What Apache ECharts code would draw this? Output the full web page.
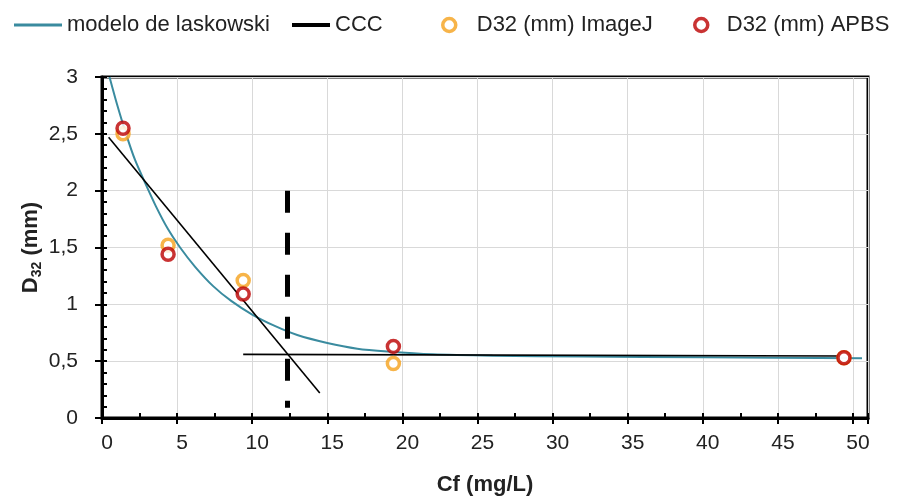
<!DOCTYPE html>
<html>
<head>
<meta charset="utf-8">
<script src="https://cdn.jsdelivr.net/npm/echarts@6/dist/echarts.min.js"></script>
<style>
  html, body { margin: 0; padding: 0; background: #fff; }
  #chart { width: 909px; height: 497px; }
</style>
</head>
<body>
<div id="chart"></div>
<script>
// modelo de laskowski (curve)
const modelX = [0.5, 1.0, 1.6, 2.2, 2.9, 3.6, 4.4, 5.2, 6.2, 7.4, 8.6, 10.0, 11.5, 13.0, 15.0, 17.0, 19.0, 22.0, 26.0, 32.0, 40.0, 50.6]
const modelY = [3.0, 2.76, 2.50, 2.27, 2.06, 1.86, 1.66, 1.50, 1.33, 1.16, 1.03, 0.91, 0.81, 0.73, 0.66, 0.61, 0.585, 0.56, 0.548, 0.54, 0.535, 0.525]

// CCC: descending tangent and the plateau line
const cccDownX = [0.44, 14.5]
const cccDownY = [2.47, 0.22]
const cccFlatX = [9.4, 49.2]
const cccFlatY = [0.56, 0.545]

// vertical dashed marker at the CCC
const cccMarkX = [12.35, 12.35]
const cccMarkY = [2.0, 0.09]

// measured points
const pointX = [1.4, 4.4, 9.4, 19.4, 49.4]
const imagejY = [2.50, 1.52, 1.21, 0.48, 0.53]
const apbsY = [2.55, 1.44, 1.09, 0.63, 0.53]

const FONT = "'Liberation Sans Narrow', 'Liberation Sans', Arial, sans-serif"
const TEAL = '#3a8b9f'
const ORANGE = '#f5a11c'
const RED = '#bb0000'

const pairs = (xs, ys) => xs.map((x, i) => [x, ys[i]])
const comma = v => String(v).replace('.', ',')

const chart = echarts.init(document.getElementById('chart'))

const legendBase = { top: 14, padding: 0, textStyle: { fontFamily: FONT, fontSize: 22, color: '#222' }, selectedMode: false }

chart.setOption({
  animation: false,
  grid: { left: 102, right: 41, top: 77, bottom: 79, outerBoundsMode: 'none', containLabel: false,
    show: true, borderColor: '#000', borderWidth: 3, backgroundColor: 'transparent' },
  legend: [
    { ...legendBase, left: 14, itemWidth: 48, itemHeight: 14,
      data: [{ name: 'modelo de laskowski', icon: 'path://M0,5.5 L48,5.5 L48,8.5 L0,8.5 Z' }] },
    { ...legendBase, left: 292, itemWidth: 38, itemHeight: 14,
      data: [{ name: 'CCC', icon: 'path://M0,5 L38,5 L38,9 L0,9 Z' }] },
    { ...legendBase, left: 441, itemWidth: 13, itemHeight: 13,
      textStyle: { ...legendBase.textStyle, padding: [0, 0, 0, 16] },
      data: [{ name: 'D32 (mm) ImageJ', icon: 'circle', itemStyle: { color: '#fff', borderColor: ORANGE, borderWidth: 3.5 } }] },
    { ...legendBase, left: 693, itemWidth: 13, itemHeight: 13,
      textStyle: { ...legendBase.textStyle, padding: [0, 0, 0, 14] },
      data: [{ name: 'D32 (mm) APBS', icon: 'circle', itemStyle: { color: '#fff', borderColor: RED, borderWidth: 3.5 } }] }
  ],
  xAxis: [
    {
      type: 'value', min: 0, max: 51, interval: 5,
      name: 'Cf (mg/L)', nameLocation: 'middle', nameGap: 56, nameMoveOverlap: false,
      nameTextStyle: { fontFamily: FONT, fontSize: 22, fontWeight: 'bold', color: '#222' },
      axisLine: { onZero: false, lineStyle: { color: '#000', width: 3 } },
      axisTick: { show: true, inside: false, length: 6, lineStyle: { color: '#000', width: 2 } },
      axisLabel: { fontFamily: FONT, fontSize: 21, color: '#222', margin: 15, padding: [0, 0, 0, 10],
        formatter: v => (v % 5 === 0 ? comma(v) : '') },
      splitLine: { show: true, lineStyle: { color: '#d9d9d9', width: 1 } }
    },
    {
      // minor ticks pointing into the plot
      type: 'value', min: 0, max: 51, interval: 2.5, position: 'bottom',
      axisLine: { show: false }, axisLabel: { show: false }, splitLine: { show: false },
      axisTick: { show: true, inside: true, length: 5, lineStyle: { color: '#000', width: 2 } }
    }
  ],
  yAxis: [
    {
      type: 'value', min: 0, max: 3, interval: 0.5,
      name: '{b|D}{s|32}{b| (mm)}', nameLocation: 'middle', nameGap: 56, nameMoveOverlap: false,
      nameTextStyle: {
        rich: {
          b: { fontFamily: FONT, fontSize: 22, fontWeight: 'bold', color: '#222', lineHeight: 30, verticalAlign: 'middle' },
          s: { fontFamily: FONT, fontSize: 14, fontWeight: 'bold', color: '#222', lineHeight: 30, verticalAlign: 'bottom', padding: [0, 0, 2, 0] }
        }
      },
      axisLine: { onZero: false, lineStyle: { color: '#000', width: 3 } },
      axisTick: { show: true, inside: false, length: 7, lineStyle: { color: '#000', width: 2 } },
      axisLabel: { fontFamily: FONT, fontSize: 21, color: '#222', margin: 24, formatter: v => comma(v) },
      splitLine: { show: true, lineStyle: { color: '#d9d9d9', width: 1 } }
    },
    {
      type: 'value', min: 0, max: 3, interval: 0.1, position: 'left',
      axisLine: { show: false }, axisLabel: { show: false }, splitLine: { show: false },
      axisTick: { show: true, inside: true, length: 5, lineStyle: { color: '#000', width: 2 } }
    }
  ],
  series: [
    {
      name: 'modelo de laskowski', type: 'line', smooth: 0.25, symbol: 'none',
      data: pairs(modelX, modelY), z: 3,
      itemStyle: { color: TEAL }, lineStyle: { color: TEAL, width: 2 }
    },
    {
      name: 'CCC', type: 'line', symbol: 'none', data: pairs(cccDownX, cccDownY), z: 4,
      itemStyle: { color: '#000' }, lineStyle: { color: '#000', width: 1.6 }
    },
    {
      name: 'CCC', type: 'line', symbol: 'none', data: pairs(cccFlatX, cccFlatY), z: 4,
      itemStyle: { color: '#000' }, lineStyle: { color: '#000', width: 1.6 }
    },
    {
      name: 'marca', type: 'line', symbol: 'none', data: pairs(cccMarkX, cccMarkY), z: 5,
      lineStyle: { color: '#000', width: 5, type: [22, 20], cap: 'butt' }
    },
    {
      name: 'D32 (mm) ImageJ', type: 'scatter', data: pairs(pointX, imagejY), z: 6,
      symbol: 'circle', symbolSize: 12,
      itemStyle: { color: '#fff', borderColor: ORANGE, borderWidth: 3.5 }
    },
    {
      name: 'D32 (mm) APBS', type: 'scatter', data: pairs(pointX, apbsY), z: 7,
      symbol: 'circle', symbolSize: 12,
      itemStyle: { color: '#fff', borderColor: RED, borderWidth: 3.5 }
    }
  ]
})
</script>
</body>
</html>
